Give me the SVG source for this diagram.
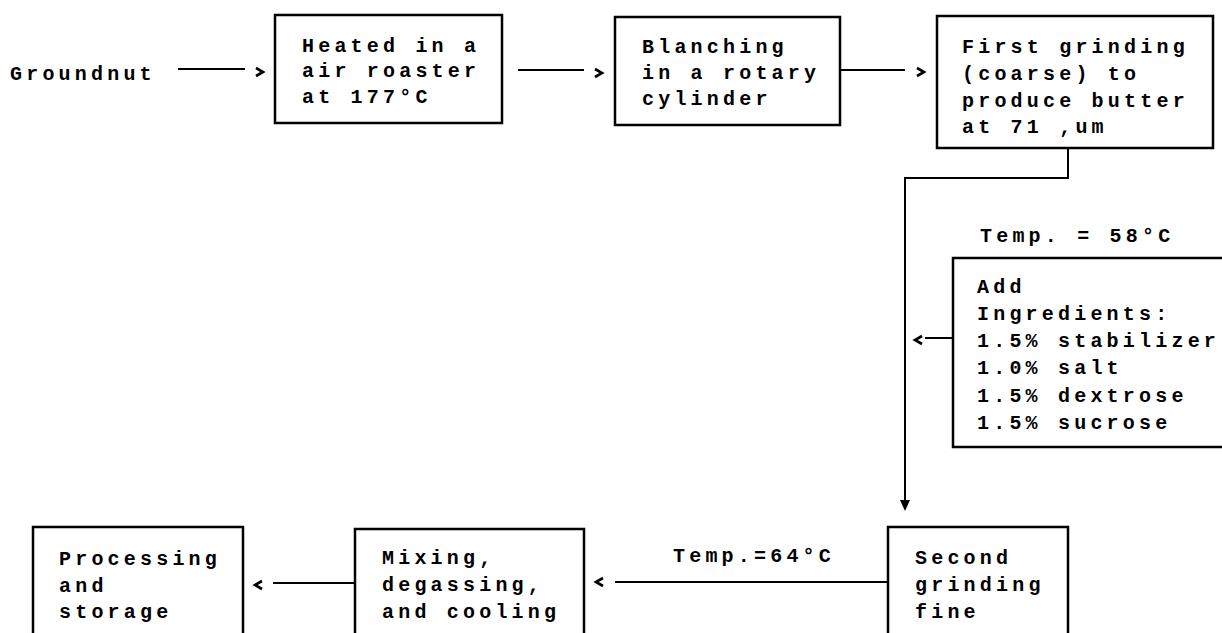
<svg xmlns="http://www.w3.org/2000/svg" width="1222" height="633" viewBox="0 0 1222 633">
<style>
.t{font-family:"Liberation Mono","Courier New",monospace;font-weight:bold;font-size:20px;letter-spacing:4.2px;fill:#000}
.b{fill:#fff;stroke:#000;stroke-width:2.5}
.c{fill:none;stroke:#000;stroke-width:2}
.h{fill:none;stroke:#000;stroke-width:2.6;stroke-linejoin:miter}
</style>
<rect width="1222" height="633" fill="#fff"/>
<g id="groundnut"><text class="t" x="10" y="80" letter-spacing="3.4">Groundnut</text></g>
<g id="n1"><rect class="b" x="275" y="15" width="227" height="108"/>
<text class="t" x="302" y="52">Heated in a</text>
<text class="t" x="302" y="77">air roaster</text>
<text class="t" x="302" y="103">at 177°C</text></g>
<g id="n2"><rect class="b" x="615" y="17" width="225" height="108"/>
<text class="t" x="642" y="53">Blanching</text>
<text class="t" x="642" y="79">in a rotary</text>
<text class="t" x="642" y="105">cylinder</text></g>
<g id="n3"><rect class="b" x="937" y="16" width="276" height="132"/>
<text class="t" x="962" y="53">First grinding</text>
<text class="t" x="962" y="80">(coarse) to</text>
<text class="t" x="962" y="107">produce butter</text>
<text class="t" x="962" y="133">at 71 ,um</text></g>
<g id="temp58"><text class="t" x="980" y="242">Temp. = 58°C</text></g>
<g id="n4"><rect class="b" x="953" y="258" width="275" height="189"/>
<text class="t" x="977" y="293">Add</text>
<text class="t" x="977" y="320">Ingredients:</text>
<text class="t" x="977" y="347">1.5% stabilizer</text>
<text class="t" x="977" y="374">1.0% salt</text>
<text class="t" x="977" y="402">1.5% dextrose</text>
<text class="t" x="977" y="429">1.5% sucrose</text></g>
<g id="n5"><rect class="b" x="888" y="527" width="180" height="120"/>
<text class="t" x="915" y="564">Second</text>
<text class="t" x="915" y="591">grinding</text>
<text class="t" x="915" y="618">fine</text></g>
<g id="temp64"><text class="t" x="673" y="562">Temp.=64°C</text></g>
<g id="n6"><rect class="b" x="355" y="529" width="229" height="120"/>
<text class="t" x="382" y="564">Mixing,</text>
<text class="t" x="382" y="591">degassing,</text>
<text class="t" x="382" y="618">and cooling</text></g>
<g id="n7"><rect class="b" x="33" y="527" width="210" height="120"/>
<text class="t" x="59" y="565">Processing</text>
<text class="t" x="59" y="592">and</text>
<text class="t" x="59" y="618">storage</text></g>
<g id="connectors">
<line class="c" x1="178" y1="69" x2="245" y2="69"/>
<polyline class="h" points="256,68 263,72 256,76"/>
<line class="c" x1="518" y1="70" x2="584" y2="70"/>
<polyline class="h" points="595,69 602,73 595,77"/>
<line class="c" x1="840" y1="70" x2="905" y2="70"/>
<polyline class="h" points="917,68 924,72 917,76"/>
<polyline class="c" points="1068,148 1068,178 905,178 905,505"/>
<path d="M900,500 L905,511 L910,500 Z" fill="#000"/>
<line class="c" x1="925" y1="338" x2="953" y2="338"/>
<polyline class="h" points="922,336 915,340 922,344"/>
<line class="c" x1="615" y1="582" x2="888" y2="582"/>
<polyline class="h" points="603,578 596,582 603,586"/>
<line class="c" x1="273" y1="583" x2="355" y2="583"/>
<polyline class="h" points="262,581 255,585 262,589"/>
</g>
</svg>
